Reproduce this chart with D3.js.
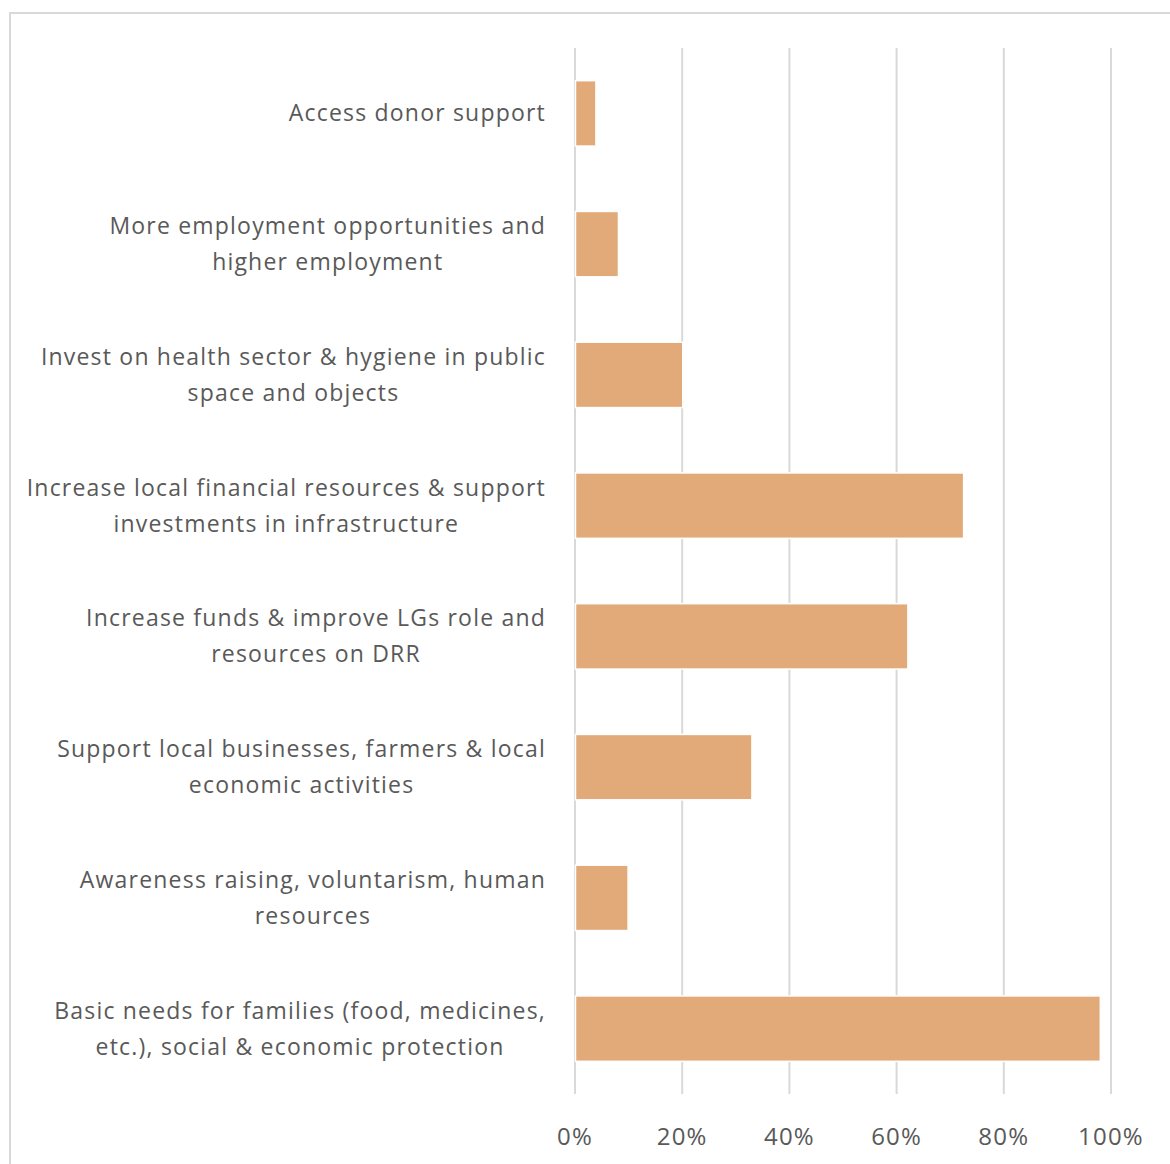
<!DOCTYPE html>
<html>
<head>
<meta charset="utf-8">
<script src="https://cdn.jsdelivr.net/npm/d3@7"></script>
<style>
  html, body { margin: 0; padding: 0; background: #fff; }
  svg { display: block; }
</style>
</head>
<body>
<svg id="chart" width="1170" height="1164"></svg>
<script>
// Category labels, top to bottom; each entry is split into the lines it is drawn on
const categories = [
  ["Access donor support"],
  ["More employment opportunities and", "higher employment"],
  ["Invest on health sector & hygiene in public", "space and objects"],
  ["Increase local financial resources & support", "investments in infrastructure"],
  ["Increase funds & improve LGs role and", "resources on DRR"],
  ["Support local businesses, farmers & local", "economic activities"],
  ["Awareness raising, voluntarism, human", "resources"],
  ["Basic needs for families (food, medicines,", "etc.), social & economic protection"]
];

// Share of respondents per category (0..1)
const values = [0.04, 0.082, 0.202, 0.726, 0.622, 0.331, 0.10, 0.981];

// Axis ticks
const tickValues = [0, 0.2, 0.4, 0.6, 0.8, 1.0];
const tickLabels = ["0%", "20%", "40%", "60%", "80%", "100%"];

const svg = d3.select("#chart");
const W = 1170, H = 1164;

const plot = { left: 574.5, right: 1110.5, top: 48, bottom: 1094 };
const textColor = "#595959";
const barColor = "#e2aa78";
const gridColor = "#d9d9d9";
const fontFamily = "'Open Sans', 'Noto Sans', sans-serif";
const labelRight = 546;

// Outer chart frame
svg.append("rect")
  .attr("x", 10).attr("y", 13)
  .attr("width", W + 20).attr("height", H + 20)
  .attr("fill", "#fff")
  .attr("stroke", gridColor)
  .attr("stroke-width", 2);

const x = d3.scaleLinear().domain([0, 1]).range([plot.left, plot.right]);
const y = d3.scaleBand()
  .domain(d3.range(categories.length))
  .range([plot.top, plot.bottom])
  .paddingInner(0.5)
  .paddingOuter(0.25);

// Vertical gridlines and percentage labels
const xAxis = d3.axisBottom(x)
  .tickValues(tickValues)
  .tickFormat((d, i) => tickLabels[i])
  .tickSize(plot.bottom - plot.top)
  .tickPadding(34);

const gx = svg.append("g")
  .attr("transform", `translate(0,${plot.top})`)
  .call(xAxis);
gx.select(".domain").remove();
gx.selectAll(".tick line")
  .attr("stroke", gridColor)
  .attr("stroke-width", 2);
gx.selectAll(".tick text")
  .attr("fill", textColor)
  .attr("font-family", fontFamily)
  .attr("font-size", 24)
  .attr("letter-spacing", "1.2px");

// Bars
svg.append("g")
  .selectAll("rect")
  .data(values)
  .join("rect")
  .attr("x", x(0) + 1)
  .attr("y", (d, i) => y(i))
  .attr("width", d => x(d) - x(0) - 1)
  .attr("height", y.bandwidth())
  .attr("fill", barColor)
  .attr("stroke", "#fff")
  .attr("stroke-width", 1.5);

// Category labels: each block is right aligned beside the axis,
// its lines centred on one another and on the bar
const lineGap = 36;
const labels = svg.append("g")
  .selectAll("text")
  .data(categories)
  .join("text")
  .attr("text-anchor", "middle")
  .attr("fill", textColor)
  .attr("font-family", fontFamily)
  .attr("font-size", 23)
  .attr("letter-spacing", "1.2px");

labels.each(function (lines, i) {
  const cy = y(i) + y.bandwidth() / 2;
  const first = cy - (lines.length - 1) * lineGap / 2;
  const t = d3.select(this);
  const spans = t.selectAll("tspan")
    .data(lines)
    .join("tspan")
    .attr("y", (d, j) => first + j * lineGap)
    .attr("dy", "0.35em")
    .text(d => d);
  let widest = 0;
  spans.each(function () { widest = Math.max(widest, this.getComputedTextLength()); });
  spans.attr("x", labelRight - widest / 2);
});
</script>
</body>
</html>
